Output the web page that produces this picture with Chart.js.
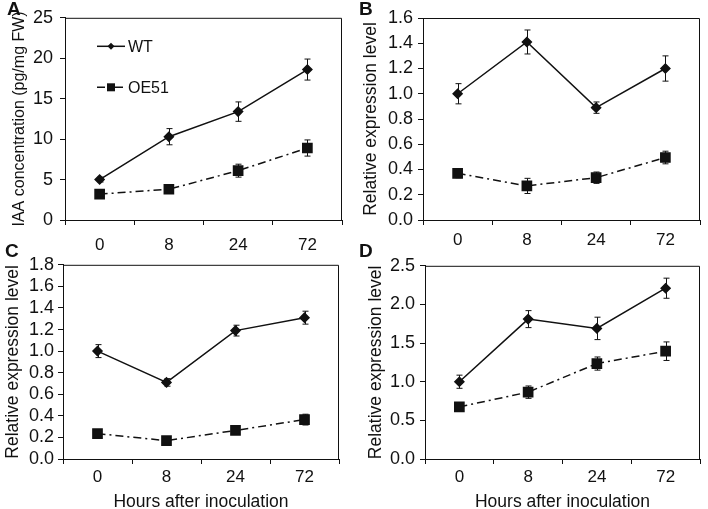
<!DOCTYPE html>
<html>
<head>
<meta charset="utf-8">
<script src="https://cdn.jsdelivr.net/npm/chart.js@4.4.0/dist/chart.umd.min.js"></script>
<style>
    body { margin: 0; background: #fff; }
    #wrap { position: relative; width: 708px; height: 509px; overflow: hidden; }
    .panel { position: absolute; }
    .tag { position: absolute; font: bold 19px Arial, "Liberation Sans", sans-serif; line-height: 19px; color: #111; }
</style>
</head>
<body>
<div id="wrap">
    <canvas id="chartA" class="panel" width="354" height="250" style="left:0;top:0"></canvas>
    <canvas id="chartB" class="panel" width="354" height="250" style="left:354px;top:0"></canvas>
    <canvas id="chartC" class="panel" width="354" height="259" style="left:0;top:250px"></canvas>
    <canvas id="chartD" class="panel" width="354" height="259" style="left:354px;top:250px"></canvas>
    <div class="tag" style="left:7px;top:-1px">A</div>
    <div class="tag" style="left:359px;top:-1px">B</div>
    <div class="tag" style="left:5px;top:241px">C</div>
    <div class="tag" style="left:359px;top:241px">D</div>
</div>
<script>
// time points (hours after inoculation)
const hours = ['0', '8', '24', '72'];

// A - IAA concentration
const wtIAA = [5.0, 10.3, 13.4, 18.6];
const wtIAAErr = [0.3, 1.0, 1.2, 1.3];
const oeIAA = [3.2, 3.8, 6.1, 8.9];
const oeIAAErr = [0.3, 0.5, 0.8, 1.0];
const yTicksA = [0, 5, 10, 15, 20, 25];

// B
const wtB = [1.0, 1.41, 0.89, 1.20];
const wtBErr = [0.08, 0.095, 0.045, 0.1];
const oeB = [0.37, 0.27, 0.335, 0.495];
const oeBErr = [0.035, 0.06, 0.045, 0.05];
const yTicksB = [0, 0.2, 0.4, 0.6, 0.8, 1.0, 1.2, 1.4, 1.6];

// C
const wtC = [1.0, 0.71, 1.19, 1.31];
const wtCErr = [0.06, 0.035, 0.05, 0.06];
const oeC = [0.235, 0.17, 0.265, 0.365];
const oeCErr = [0.035, 0.02, 0.035, 0.05];
const yTicksC = [0, 0.2, 0.4, 0.6, 0.8, 1.0, 1.2, 1.4, 1.6, 1.8];

// D
const wtD = [1.0, 1.81, 1.69, 2.21];
const wtDErr = [0.085, 0.11, 0.145, 0.13];
const oeD = [0.675, 0.865, 1.235, 1.395];
const oeDErr = [0.04, 0.08, 0.085, 0.12];
const yTicksD = [0, 0.5, 1.0, 1.5, 2.0, 2.5];

const INK = '#111';
const DASH = [8, 4, 2, 4];
Chart.defaults.font.family = 'Arial, "Liberation Sans", sans-serif';
Chart.defaults.color = INK;

// vertical error bars with caps
const errorBars = {
    id: 'errorBars',
    afterDatasetsDraw(chart) {
        const ctx = chart.ctx;
        const y = chart.scales.y;
        ctx.save();
        ctx.strokeStyle = INK;
        ctx.lineWidth = 1;
        chart.data.datasets.forEach((ds, i) => {
            chart.getDatasetMeta(i).data.forEach((pt, j) => {
                const top = y.getPixelForValue(ds.data[j] + ds.errors[j]);
                const bot = y.getPixelForValue(ds.data[j] - ds.errors[j]);
                const x = Math.round(pt.x) + 0.5;
                ctx.beginPath();
                ctx.moveTo(x, top); ctx.lineTo(x, bot);
                ctx.moveTo(x - 3, top); ctx.lineTo(x + 3, top);
                ctx.moveTo(x - 3, bot); ctx.lineTo(x + 3, bot);
                ctx.stroke();
            });
        });
        ctx.restore();
    }
};

// box around the plot area
const frame = {
    id: 'frame',
    afterDraw(chart) {
        const a = chart.chartArea;
        const ctx = chart.ctx;
        ctx.save();
        ctx.strokeStyle = INK;
        ctx.lineWidth = 1;
        ctx.beginPath();
        ctx.moveTo(a.left + 0.5, a.top + 0.5);
        ctx.lineTo(a.right - 0.5, a.top + 0.5);
        ctx.lineTo(a.right - 0.5, a.bottom);
        ctx.stroke();
        ctx.restore();
    }
};

// small legend inside panel A
const insideLegend = {
    id: 'insideLegend',
    afterDraw(chart) {
        if (!chart.options.plugins.insideLegend.show) return;
        const a = chart.chartArea;
        const ctx = chart.ctx;
        const rows = [
            { label: 'WT', dy: 28, dash: [], style: 'diamond' },
            { label: 'OE51', dy: 69, dash: DASH, style: 'square' }
        ];
        ctx.save();
        rows.forEach(r => {
            const y = a.top + r.dy + 0.5;
            const x0 = a.left + 32, x1 = a.left + 60, xm = (x0 + x1) / 2;
            ctx.strokeStyle = INK;
            ctx.lineWidth = 1.5;
            ctx.setLineDash(r.dash);
            ctx.beginPath();
            ctx.moveTo(x0, y); ctx.lineTo(x1, y);
            ctx.stroke();
            ctx.setLineDash([]);
            ctx.fillStyle = INK;
            ctx.beginPath();
            if (r.style === 'diamond') {
                ctx.moveTo(xm, y - 3.5); ctx.lineTo(xm + 3.5, y);
                ctx.lineTo(xm, y + 3.5); ctx.lineTo(xm - 3.5, y);
                ctx.closePath();
            } else {
                ctx.rect(xm - 4, y - 4, 8, 8);
            }
            ctx.fill();
            ctx.font = '16px Arial, "Liberation Sans", sans-serif';
            ctx.textBaseline = 'middle';
            ctx.fillText(r.label, x1 + 3, y + 1);
        });
        ctx.restore();
    }
};

function makePanel(id, p) {
    const ctx = document.getElementById(id).getContext('2d');
    return new Chart(ctx, {
        type: 'line',
        data: {
            labels: hours,
            datasets: [{
                label: 'WT',
                data: p.wt,
                errors: p.wtErr,
                borderColor: INK,
                backgroundColor: INK,
                borderWidth: 1.5,
                pointStyle: 'rectRot',
                pointRadius: 4.5,
                tension: 0
            }, {
                label: 'OE51',
                data: p.oe,
                errors: p.oeErr,
                borderColor: INK,
                backgroundColor: INK,
                borderWidth: 1.5,
                borderDash: DASH,
                pointStyle: 'rect',
                pointRadius: 6.5,
                tension: 0
            }]
        },
        options: {
            responsive: false,
            animation: false,
            events: [],
            layout: { padding: { top: p.top, right: p.right, left: 0, bottom: 0 } },
            plugins: {
                legend: { display: false },
                tooltip: { enabled: false },
                insideLegend: { show: !!p.legend }
            },
            scales: {
                x: {
                    type: 'category',
                    offset: true,
                    grid: { offset: true, drawOnChartArea: false, tickLength: 5, color: INK },
                    border: { color: INK, width: 1 },
                    ticks: { padding: p.xPad, autoSkip: false, maxRotation: 0, font: { size: 17 } },
                    title: {
                        display: !!p.xTitle,
                        text: p.xTitle || '',
                        font: { size: 17.5, lineHeight: 0.75 },
                        padding: 0
                    },
                    afterFit: s => { s.height = p.xh; }
                },
                y: {
                    min: 0,
                    max: p.yTicks[p.yTicks.length - 1],
                    afterBuildTicks: s => { s.ticks = p.yTicks.map(v => ({ value: v })); },
                    grid: { drawOnChartArea: false, tickLength: 5, color: INK },
                    border: { color: INK, width: 1 },
                    ticks: {
                        padding: p.yPad,
                        autoSkip: false,
                        font: { size: 18 },
                        callback: v => p.dec ? v.toFixed(1) : String(v)
                    },
                    title: {
                        display: true,
                        text: p.yTitle,
                        font: { size: p.yTitleSize },
                        padding: { top: p.yTitlePad, bottom: 0 }
                    },
                    afterFit: s => { s.width = p.yw; }
                }
            }
        },
        plugins: [errorBars, frame, insideLegend]
    });
}

makePanel('chartA', {
    wt: wtIAA, wtErr: wtIAAErr, oe: oeIAA, oeErr: oeIAAErr, yTicks: yTicksA, dec: false,
    yTitle: 'IAA concentration (pg/mg FW)', yTitleSize: 16, legend: true,
    top: 16, right: 12, yw: 65, xh: 30, xPad: 10, yPad: 7, yTitlePad: 10
});
makePanel('chartB', {
    wt: wtB, wtErr: wtBErr, oe: oeB, oeErr: oeBErr, yTicks: yTicksB, dec: true,
    yTitle: 'Relative expression level', yTitleSize: 17.5,
    top: 18, right: 3, yw: 69, xh: 30, xPad: 5, yPad: 5, yTitlePad: 7
});
makePanel('chartC', {
    wt: wtC, wtErr: wtCErr, oe: oeC, oeErr: oeCErr, yTicks: yTicksC, dec: true,
    yTitle: 'Relative expression level', yTitleSize: 17.5, xTitle: 'Hours after inoculation',
    top: 11, right: 15, yw: 63, xh: 50, xPad: 3, yPad: 4, yTitlePad: 3
});
makePanel('chartD', {
    wt: wtD, wtErr: wtDErr, oe: oeD, oeErr: oeDErr, yTicks: yTicksD, dec: true,
    yTitle: 'Relative expression level', yTitleSize: 17.5, xTitle: 'Hours after inoculation',
    top: 11, right: 3, yw: 71, xh: 50, xPad: 3, yPad: 5, yTitlePad: 12
});
</script>
</body>
</html>
